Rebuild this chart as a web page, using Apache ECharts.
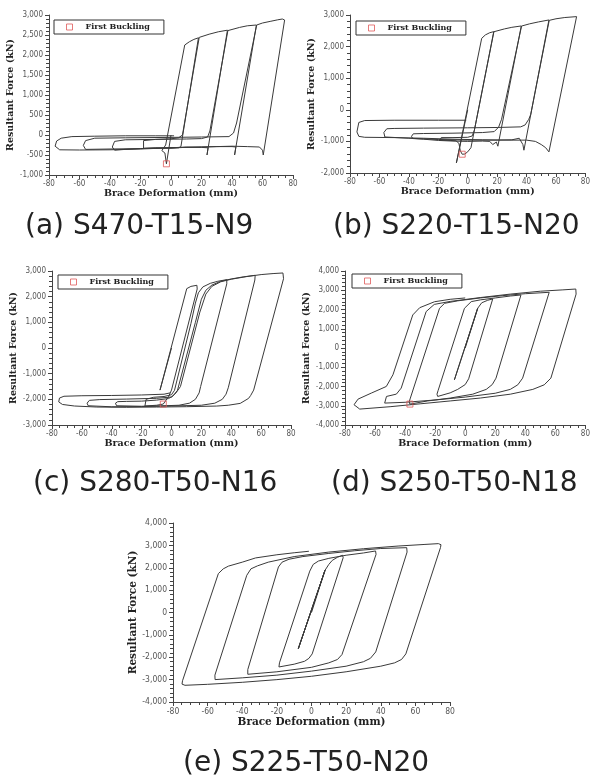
<!DOCTYPE html>
<html>
<head>
<meta charset="utf-8">
<style>
  html, body { margin: 0; padding: 0; background: #fff; }
  #chart { width: 593px; height: 775px; }
</style>
<script src="https://cdn.jsdelivr.net/npm/echarts@6.0.0/dist/echarts.min.js"></script>
</head>
<body>
<div id="chart"></div>
<script>
// Hysteresis traces: [brace deformation (mm), resultant force (kN)]
const curveA = [
  [0,0],[-3,-720],[-4,-450],[-6,-390],[-3.5,-250],[9,2250],[12,2330],[15,2390],[18,2430],[18.8,2420],
  [6.5,-290],[5,-320],[0,-330],[-10,-320],[-18,-330],[-19,-290],[-18,-140],[-10,-110],[0,-95],[5,-70],[7.5,0],
  [18.5,2440],[25,2520],[31,2580],[37,2620],[37.6,2600],[23.6,-500],[24.3,-320],[20,-310],[10,-300],[0,-320],
  [-20,-340],[-30,-360],[-37,-380],[-38.5,-300],[-37,-160],[-30,-120],[-10,-110],[10,-100],[20,-90],[24,-50],
  [25.5,100],[37.3,2610],[45,2690],[50,2730],[56,2750],[56.6,2740],[41.7,-500],[42.5,-300],[40,-290],[30,-290],
  [20,-300],[0,-320],[-20,-340],[-40,-350],[-56,-360],[-57.5,-260],[-56,-140],[-50,-80],[-30,-70],[0,-60],
  [20,-50],[38,-40],[41,50],[43,300],[56.2,2750],[60,2800],[65,2840],[70,2880],[73,2900],[74.5,2875],
  [60.5,-500],[60,-380],[58,-300],[50,-290],[40,-280],[20,-300],[0,-320],[-20,-350],[-40,-370],[-60,-375],
  [-73,-370],[-76,-280],[-75,-150],[-72,-80],[-65,-40],[-50,-30],[-30,-20],[-10,-20],[2,-20]
];
const curveB = [
  [0,0],[-7.7,-1681],[9.5,2262],[12,2370],[15,2440],[17.7,2473],[18.1,2440],[2.2,-1200],[0,-1330],[-2,-1400],
  [-3.75,-1406],[-5,-1300],[-6,-1060],[-8,-980],[-12,-970],[-18.8,-962],[-19.5,-920],[-18,-880],[-10,-880],
  [0,-870],[3,-830],[4.5,-650],[6,-300],[17.8,2470],[25,2560],[30,2610],[36.4,2653],[36.8,2630],[20.5,-1152],
  [19.5,-1020],[17,-1100],[15,-1000],[10,-990],[0,-1000],[-10,-990],[-20,-970],[-30,-930],[-37.5,-909],
  [-38.2,-840],[-37,-760],[-30,-750],[-10,-740],[10,-720],[18,-690],[21,-550],[23,-300],[36.6,2650],[42,2720],
  [48,2780],[55.2,2843],[55.6,2820],[38.2,-1279],[37.5,-1100],[35,-900],[30,-950],[20,-960],[0,-960],
  [-20,-940],[-40,-900],[-56.3,-860],[-57,-720],[-55,-600],[-50,-590],[-30,-580],[0,-570],[20,-560],[36,-540],
  [39,-480],[41.5,-300],[42.8,-150],[55.4,2830],[60,2880],[66,2920],[74,2949],[74.5,2920],[55.2,-1332],
  [53,-1200],[50,-1100],[46,-1000],[40,-960],[30,-960],[10,-950],[-10,-930],[-30,-900],[-50,-880],[-70,-870],
  [-74,-840],[-75.3,-700],[-74,-400],[-70,-340],[-50,-330],[-20,-330],[-1,-330]
];
const curveC = [
  [0,0],[-7.7,-1640],[10.2,2313],[13,2400],[17,2443],[17.5,2420],[17.2,2300],[0,-1640],[-2,-1900],[-5.5,-2184],
  [-10,-2230],[-17.8,-2260],[-18.5,-2200],[-17,-2000],[-12,-1920],[-5,-1890],[0,-1820],[2,-1650],[13,950],
  [16,1750],[18,2150],[21,2380],[26,2520],[31,2600],[37,2663],[37.6,2640],[37,2500],[19.5,-1500],[18.5,-1750],
  [16,-2000],[12,-2150],[5,-2230],[-5,-2250],[-20,-2270],[-36.8,-2250],[-37.5,-2150],[-36,-2090],[-30,-2080],
  [-20,-2070],[-10,-2030],[-2,-1970],[1,-1870],[4,-1650],[16,1000],[20,1900],[23,2250],[27,2450],[33,2600],
  [40,2690],[48,2770],[56,2832],[56.6,2800],[55.8,2650],[38,-1550],[36.5,-1800],[34,-2000],[29,-2150],
  [20,-2230],[0,-2260],[-20,-2280],[-40,-2290],[-55.8,-2250],[-56.5,-2150],[-55,-2040],[-48,-2010],[-30,-1990],
  [-10,-1960],[0,-1910],[3,-1750],[6,-1500],[19,1400],[23,2100],[27,2400],[33,2580],[40,2680],[50,2780],
  [60,2860],[68,2900],[74.6,2923],[75.5,2890],[75,2700],[55,-1640],[53,-1850],[51.6,-1963],[46,-2158],
  [38,-2230],[30.3,-2262],[10,-2287],[-10,-2300],[-30,-2310],[-50,-2300],[-65,-2260],[-73,-2200],[-75.5,-2100],
  [-75,-1950],[-72,-1880],[-60,-1860],[-40,-1850],[-20,-1830],[-5,-1800],[-1,-1750]
];
const curveD = [
  [0,0],[8.3,2063],[-7.2,-1652],[8.3,2063],[11,2350],[15,2480],[18.3,2547],[18.8,2500],[2.3,-1600],[0,-1900],
  [-5,-2150],[-10,-2330],[-18.3,-2516],[-18.8,-2400],[-18,-2200],[-0.5,2063],[4,2409],[10,2500],[20,2600],
  [30,2700],[37.1,2754],[37.6,2700],[20.5,-1566],[18,-1900],[14,-2150],[5,-2400],[-10,-2600],[-25,-2750],
  [-36.8,-2914],[-37.3,-2800],[-36.5,-2600],[-17.1,2063],[-13.7,2322],[-5,2450],[10,2600],[25,2720],[40,2820],
  [55.9,2893],[56.4,2850],[38.2,-1566],[35,-1912],[30,-2150],[20,-2350],[0,-2550],[-20,-2700],[-40,-2820],
  [-53.6,-2862],[-54.5,-2780],[-52.4,-2517],[-45.8,-2396],[-42.6,-2084],[-26,1892],[-20.6,2264],[-10,2420],
  [10,2620],[30,2800],[50,2950],[65,3020],[73.6,3064],[74.5,3000],[73.8,2800],[57,-1566],[52.6,-1912],
  [45,-2150],[30,-2400],[10,-2600],[-10,-2750],[-30,-2900],[-50,-3050],[-70.2,-3173],[-74,-2948],[-71.3,-2655],
  [-62.5,-2343],[-52.5,-1998],[-48.1,-1393],[-34.9,1718],[-30.3,2093],[-20.4,2404],[-10,2530],[0,2600]
];
const curveE = [
  [0,0],[7.8,1886],[-7.6,-1614],[7.8,1886],[-7.6,-1614],[7.8,1886],[10,2150],[12,2330],[15,2470],[17.9,2556],
  [18.5,2520],[18.3,2450],[0.4,-1850],[-1.5,-2050],[-4,-2180],[-10,-2310],[-18.8,-2434],[-19.2,-2380],
  [-18.5,-2250],[-1,1850],[1,2150],[4,2300],[10,2420],[20,2560],[30,2660],[37,2750],[37.8,2720],[37.3,2600],
  [17.6,-1880],[15,-2100],[10,-2250],[0,-2450],[-20,-2650],[-36.8,-2761],[-37.3,-2700],[-36.8,-2550],
  [-19.1,2034],[-17,2250],[-13,2380],[-5,2500],[10,2640],[25,2760],[40,2860],[55,2898],[55.6,2860],[55.2,2700],
  [37.1,-1763],[34,-2050],[30,-2200],[20,-2400],[0,-2620],[-20,-2800],[-40,-2920],[-55.7,-2999],[-56.2,-2950],
  [-55.8,-2800],[-37.4,1662],[-35,1950],[-31.2,2085],[-25,2250],[-10,2500],[10,2700],[30,2850],[50,2970],
  [65,3040],[73.3,3078],[74.8,3030],[74.5,2900],[54.5,-1850],[52,-2100],[48,-2250],[40,-2400],[20,-2650],
  [0,-2850],[-20,-3000],[-40,-3120],[-60,-3210],[-73.1,-3253],[-74.8,-3200],[-74.5,-3050],[-53.8,1738],
  [-51,1950],[-48,2072],[-40,2250],[-32.3,2439],[-20,2580],[-10,2670],[-1.5,2737]
];

// First buckling points
const bucklingA = [-3, -720];
const bucklingB = [-3.75, -1406];
const bucklingC = [-5.5, -2184];
const bucklingD = [-36.8, -2914];

// Axis ranges [min, max, step]
const deformRange = [-80, 80, 20];
const forceRangeA = [-1000, 3000, 500];
const forceRangeB = [-2000, 3000, 1000];
const forceRangeC = [-3000, 3000, 1000];
const forceRangeD = [-4000, 4000, 1000];
const forceRangeE = [-4000, 4000, 1000];

const captions = ['(a) S470-T15-N9', '(b) S220-T15-N20', '(c) S280-T50-N16', '(d) S250-T50-N18', '(e) S225-T50-N20'];
const xTitle = 'Brace Deformation (mm)';
const yTitle = 'Resultant Force (kN)';
const legendName = 'First Buckling';

// Layout of the five plots
const layout = [
  { curve: curveA, buckle: bucklingA, force: forceRangeA, grid: [49, 15, 244, 160], legend: [54, 20], cap: [20, 228], yGap: 29, lab: 8, nm: 9.5 },
  { curve: curveB, buckle: bucklingB, force: forceRangeB, grid: [350, 15, 241, 158], legend: [356, 21], cap: [328, 228], yGap: 28, lab: 8, nm: 9.5 },
  { curve: curveC, buckle: bucklingC, force: forceRangeC, grid: [52, 271, 239, 154], legend: [58, 275], cap: [28, 485], yGap: 28, lab: 8, nm: 9.5 },
  { curve: curveD, buckle: bucklingD, force: forceRangeD, grid: [345, 271, 241, 154], legend: [352, 274], cap: [326, 485], yGap: 28, lab: 8, nm: 9.5 },
  { curve: curveE, buckle: null, force: forceRangeE, grid: [173, 523, 277, 179], legend: null, cap: [178, 765], yGap: 33, lab: 8.5, nm: 10.5 }
];

const lineColor = '#3a3a3a';
const axisColor = '#444';
const labelFont = "'Liberation Sans Narrow', 'DejaVu Sans Condensed', 'Arial Narrow', sans-serif";
const titleFont = "'DejaVu Serif', serif";
const captionFont = "'DejaVu Sans', sans-serif";
const fmt = v => (v < 0 ? '-' : '') + Math.abs(v).toLocaleString('en-US');

const grid = [], xAxis = [], yAxis = [], series = [], legend = [], title = [];

layout.forEach((p, i) => {
  grid.push({ left: p.grid[0], top: p.grid[1], width: p.grid[2], height: p.grid[3], containLabel: false });
  const axisBase = {
    axisLine: { show: true, onZero: false, lineStyle: { color: axisColor, width: 1 } },
    axisTick: { show: true, length: 4, lineStyle: { color: axisColor } },
    splitLine: { show: false },
    nameTextStyle: { fontFamily: titleFont, fontWeight: 'bold', fontSize: p.nm, color: '#222' }
  };
  xAxis.push(Object.assign({}, axisBase, {
    gridIndex: i, type: 'value',
    min: deformRange[0], max: deformRange[1], interval: deformRange[2],
    minorTick: { show: true, splitNumber: 4, length: 3, lineStyle: { color: axisColor } },
    axisLabel: { fontFamily: labelFont, fontSize: p.lab, color: '#555', margin: 5, formatter: fmt },
    name: xTitle, nameLocation: 'middle', nameGap: 14
  }));
  yAxis.push(Object.assign({}, axisBase, {
    gridIndex: i, type: 'value',
    min: p.force[0], max: p.force[1], interval: p.force[2],
    minorTick: { show: true, splitNumber: 5, length: 3, lineStyle: { color: axisColor } },
    axisLabel: { fontFamily: labelFont, fontSize: p.lab, color: '#555', margin: 6, formatter: fmt },
    name: yTitle, nameLocation: 'middle', nameGap: p.yGap
  }));
  series.push({
    type: 'line', xAxisIndex: i, yAxisIndex: i, data: p.curve,
    showSymbol: false, smooth: false, silent: true,
    lineStyle: { color: lineColor, width: 1 }
  });
  if (p.buckle) {
    series.push({
      type: 'scatter', name: legendName, xAxisIndex: i, yAxisIndex: i, data: [p.buckle],
      symbol: 'rect', symbolSize: 6, z: 5,
      itemStyle: { color: 'rgba(0,0,0,0)', borderColor: '#e05a5a', borderWidth: 1 }
    });
    legend.push({
      data: [legendName], left: p.legend[0], top: p.legend[1], orient: 'horizontal',
      icon: 'rect', itemWidth: 6, itemHeight: 6, selectedMode: false,
      itemStyle: { color: '#fff', borderColor: '#e05a5a', borderWidth: 1 },
      borderColor: '#333', borderWidth: 1, padding: [3, 14, 3, 12],
      textStyle: { fontFamily: titleFont, fontWeight: 'bold', fontSize: 8, color: '#222', padding: [0, 0, 0, 8] }
    });
  }
  title.push({
    text: captions[i], left: p.cap[0], top: p.cap[1] - 20,
    textStyle: { fontFamily: captionFont, fontWeight: 'normal', fontSize: 28, color: '#222' }
  });
});

const chart = echarts.init(document.getElementById('chart'), null, { renderer: 'canvas' });
chart.setOption({
  animation: false,
  backgroundColor: '#fff',
  title, grid, xAxis, yAxis, series, legend
});
</script>
</body>
</html>
